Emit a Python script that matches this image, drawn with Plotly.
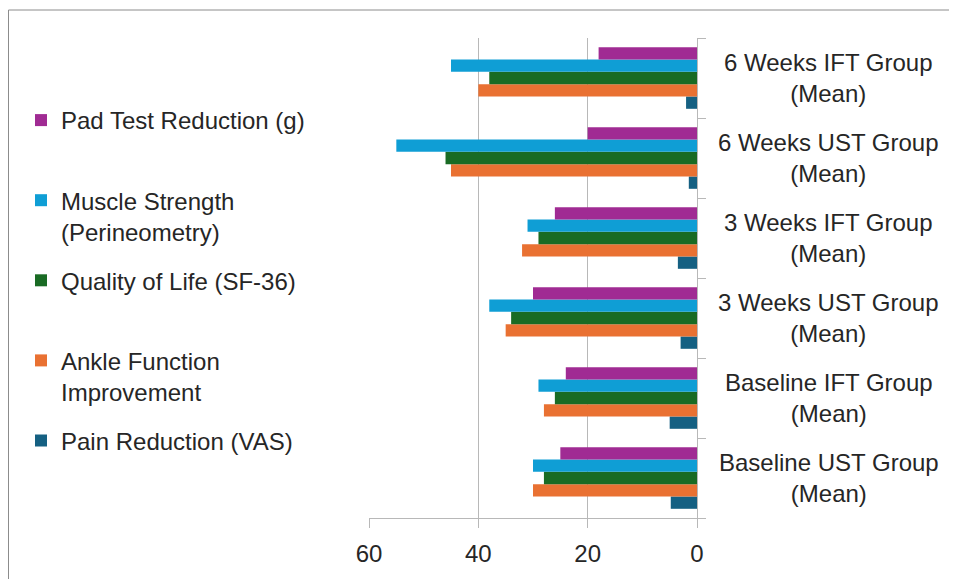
import plotly.graph_objects as go

categories = [
    "Baseline UST Group<br>(Mean)",
    "Baseline IFT Group<br>(Mean)",
    "3 Weeks UST Group<br>(Mean)",
    "3 Weeks IFT Group<br>(Mean)",
    "6 Weeks UST Group<br>(Mean)",
    "6 Weeks IFT Group<br>(Mean)",
]

pain_reduction = [4.8, 5, 3, 3.5, 1.5, 2]
ankle_function = [30, 28, 35, 32, 45, 40]
quality_of_life = [28, 26, 34, 29, 46, 38]
muscle_strength = [30, 29, 38, 31, 55, 45]
pad_test = [25, 24, 30, 26, 20, 18]

series_names = [
    "Pain Reduction (VAS)<br> ",
    "Ankle Function<br>Improvement",
    "Quality of Life (SF-36)<br> ",
    "Muscle Strength<br>(Perineometry)",
    "Pad Test Reduction (g)<br> ",
]
series_values = [pain_reduction, ankle_function, quality_of_life, muscle_strength, pad_test]
series_colors = ["#156082", "#E97132", "#196B24", "#0F9ED5", "#A02B93"]

x_ticks = [0, 20, 40, 60]

FONT = "Liberation Sans, Arial, sans-serif"
TEXT = "#262626"
GRID = "#b8b8b8"

W, H = 949, 571
ML, MT, PW, PH = 361, 30, 328, 480

fig = go.Figure()
n = len(series_names)
for i, (name, vals, col) in enumerate(zip(series_names, series_values, series_colors)):
    fig.add_trace(go.Bar(
        y=categories, x=vals, name=name, orientation="h",
        marker=dict(color=col, line=dict(width=0)),
        legendgroup=f"g{i}", legendrank=n - i,
    ))

for c in categories:
    fig.add_annotation(
        x=1.402, xref="paper", y=c, yref="y", text=c, showarrow=False,
        xanchor="center", yanchor="middle", align="center",
        font=dict(family=FONT, size=24, color=TEXT),
    )

fig.add_shape(type="rect", xref="paper", yref="paper",
              x0=(0.5 - ML) / PW, x1=2.0, y0=-0.3, y1=1 + (MT - 2) / PH,
              line=dict(color="#8c8c8c", width=1), fillcolor="rgba(0,0,0,0)",
              layer="below")

fig.update_layout(
    width=W, height=H,
    margin=dict(l=ML, r=W - ML - PW, t=MT, b=H - MT - PH, autoexpand=False),
    paper_bgcolor="white", plot_bgcolor="white",
    barmode="group", bargap=0.23, bargroupgap=0,
    font=dict(family=FONT, size=24, color=TEXT),
    legend=dict(
        xref="container", yref="paper",
        x=13 / W, y=0.875, xanchor="left", yanchor="top",
        traceorder="grouped", tracegroupgap=14.7, valign="top",
        font=dict(family=FONT, size=24, color=TEXT),
        bgcolor="rgba(0,0,0,0)",
    ),
    xaxis=dict(
        range=[60, 0], tickvals=x_ticks, ticktext=[str(v) for v in x_ticks],
        showgrid=True, gridcolor=GRID, gridwidth=1.3,
        showline=True, linecolor=GRID, linewidth=1.3,
        ticks="outside", ticklen=9, tickcolor=GRID, tickwidth=1.3,
        ticklabelstandoff=5, zeroline=False,
        tickfont=dict(family=FONT, size=24, color=TEXT),
    ),
    yaxis=dict(
        type="category", categoryorder="array", categoryarray=categories,
        side="right", showticklabels=False,
        showline=True, linecolor=GRID, linewidth=1.3,
        ticks="outside", ticklen=8, tickcolor=GRID, tickwidth=1.3, tickson="boundaries",
        showgrid=False, zeroline=False,
    ),
)

fig.write_html("out.html")
